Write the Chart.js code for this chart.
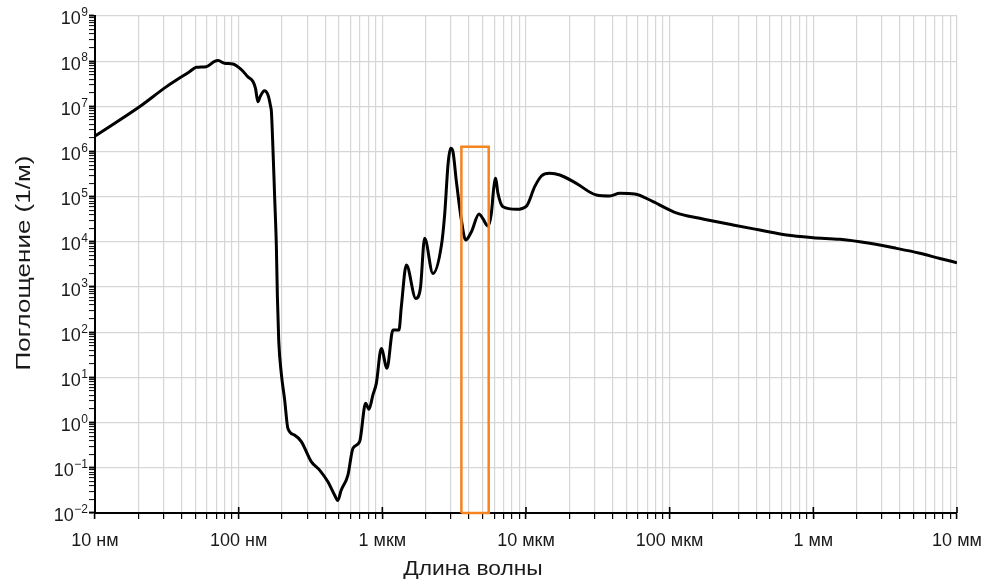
<!DOCTYPE html>
<html>
<head>
<meta charset="utf-8">
<script src="https://cdn.jsdelivr.net/npm/chart.js@4/dist/chart.umd.min.js"></script>
<style>
  html, body { margin: 0; padding: 0; background: #fff; }
  #wrap { width: 994px; height: 581px; position: relative; }
</style>
</head>
<body>
<div id="wrap"><canvas id="c" width="994" height="581"></canvas></div>
<script>
// Wavelength (m) and absorption coefficient (1/m)
const wavelength = [
  1e-8, 2.04e-8, 3.13e-8, 4.55e-8, 5.07e-8, 5.95e-8, 6.8e-8, 7.2e-8, 7.97e-8, 9.1e-8,
  1.04e-7, 1.16e-7, 1.26e-7, 1.31e-7, 1.36e-7, 1.41e-7, 1.51e-7, 1.6e-7, 1.67e-7, 1.69e-7,
  1.73e-7, 1.78e-7, 1.83e-7, 1.86e-7, 1.9e-7, 1.98e-7, 2.09e-7, 2.2e-7, 2.45e-7, 2.73e-7,
  3.2e-7, 3.66e-7, 4.18e-7, 4.65e-7, 4.9e-7, 5.17e-7, 5.76e-7, 6.24e-7, 6.95e-7, 7.65e-7,
  8.07e-7, 8.6e-7, 9.08e-7, 9.84e-7, 1.077e-6, 1.186e-6, 1.306e-6, 1.356e-6, 1.47e-6, 1.71e-6,
  1.84e-6, 1.97e-6, 2.25e-6, 2.58e-6, 2.72e-6, 2.87e-6, 2.99e-6, 3.1e-6, 3.27e-6, 3.55e-6,
  3.8e-6, 4.17e-6, 4.71e-6, 5.0e-6, 5.43e-6, 5.74e-6, 5.96e-6, 6.15e-6, 6.38e-6, 6.92e-6,
  8.57e-6, 1.007e-5, 1.15e-5, 1.28e-5, 1.46e-5, 1.72e-5, 2.24e-5, 3.09e-5, 3.83e-5, 4.49e-5,
  5.71e-5, 7.66e-5, 1.11e-4, 1.62e-4, 2.76e-4, 4.24e-4, 6.5e-4, 9.98e-4, 1.53e-3, 2.47e-3,
  3.79e-3, 5.52e-3, 7.6e-3, 1e-2
];
const absorption = [
  2.2e6, 9.8e6, 2.7e7, 5.85e7, 7.3e7, 7.55e7, 9.9e7, 1.03e8, 9.0e7, 8.7e7,
  6.6e7, 4.5e7, 3.5e7, 2.5e7, 1.27e7, 1.64e7, 2.22e7, 1.78e7, 9.8e6, 7.6e6,
  1.3e6, 1e5, 7.8e3, 612, 67, 12.3, 3.2, 0.75, 0.53, 0.38,
  0.137, 0.089, 0.049, 0.025, 0.019, 0.032, 0.069, 0.27, 0.38, 2.67,
  1.97, 4.1, 7.4, 44, 15.9, 112, 112, 368, 3.08e3, 562,
  940, 1.2e4, 2.0e3, 8.5e3, 4.3e4, 5.5e5, 1.18e6, 1.0e6, 2.3e5, 3.05e4,
  1.1e4, 1.68e4, 4.15e4, 3.3e4, 2.25e4, 4.3e4, 1.53e5, 2.56e5, 1.19e5, 6.0e4,
  5.26e4, 6.2e4, 1.67e5, 2.88e5, 3.3e5, 3.03e5, 1.98e5, 1.09e5, 1.04e5, 1.19e5,
  1.15e5, 7.8e4, 4.4e4, 3.33e4, 2.37e4, 1.83e4, 1.42e4, 1.24e4, 1.14e4, 9.3e3,
  7.2e3, 5.6e3, 4.3e3, 3.47e3
];
// Highlight window (orange rectangle)
const boxWavelength = [3.55e-6, 3.55e-6, 5.5e-6, 5.5e-6, 3.55e-6];
const boxAbsorption = [0.01, 1.28e6, 1.28e6, 0.01, 0.01];

// Axis ticks
const xMajorValues = [1e-8, 1e-7, 1e-6, 1e-5, 1e-4, 1e-3, 1e-2];
const xMajorLabels = ['10 нм', '100 нм', '1 мкм', '10 мкм', '100 мкм', '1 мм', '10 мм'];
const yExponents = [-2, -1, 0, 1, 2, 3, 4, 5, 6, 7, 8, 9];
const xTitle = 'Длина волны';
const yTitle = 'Поглощение (1/м)';

function isPow10(v) { const l = Math.log10(v); return Math.abs(l - Math.round(l)) < 1e-9; }

function decadeTicks(minExp, maxExp) {
  const t = [];
  for (let e = minExp; e < maxExp; e++) {
    for (let s = 1; s <= 9; s++) t.push({ value: parseFloat((s * Math.pow(10, e)).toPrecision(6)) });
  }
  t.push({ value: Math.pow(10, maxExp) });
  return t;
}

const FONT = '"Liberation Sans", Arial, sans-serif';
const TEXT = '#1a1a1a';

// Y tick labels as 10 with a raised exponent, placed by the y scale
const yLabelPlugin = {
  id: 'yPowLabels',
  afterDraw(chart) {
    const ctx = chart.ctx;
    const ys = chart.scales.y;
    const right = ys.right - 7;
    ctx.save();
    ctx.fillStyle = TEXT;
    ctx.textBaseline = 'middle';
    ctx.textAlign = 'right';
    yExponents.forEach(e => {
      const py = ys.getPixelForValue(Math.pow(10, e));
      const expStr = e < 0 ? '\u2212' + Math.abs(e) : String(e);
      ctx.font = '12px ' + FONT;
      const w = ctx.measureText(expStr).width;
      ctx.fillText(expStr, right, py - 3);
      ctx.font = '18px ' + FONT;
      ctx.fillText('10', right - w - 0.5, py + 3.5);
    });
    ctx.restore();
  }
};

// Short inward tick marks at the major x values (decades)
const xInnerTicks = {
  id: 'xInnerTicks',
  afterDraw(chart) {
    const ctx = chart.ctx;
    const xs = chart.scales.x;
    const y0 = chart.chartArea.bottom;
    ctx.save();
    ctx.strokeStyle = '#000';
    ctx.lineWidth = 1.6;
    xMajorValues.forEach(v => {
      const px = xs.getPixelForValue(v);
      ctx.beginPath();
      ctx.moveTo(px, y0);
      ctx.lineTo(px, y0 - 6);
      ctx.stroke();
    });
    ctx.restore();
  }
};

const titlePlugin = {
  id: 'axisTitles',
  afterDraw(chart) {
    const ctx = chart.ctx;
    ctx.save();
    ctx.fillStyle = TEXT;
    ctx.font = '20px ' + FONT;
    ctx.textAlign = 'center';
    ctx.textBaseline = 'middle';
    ctx.save();
    ctx.translate(473, 569);
    ctx.scale(1.14, 1);
    ctx.fillText(xTitle, 0, 0);
    ctx.restore();
    ctx.save();
    ctx.translate(24, 263);
    ctx.rotate(-Math.PI / 2);
    ctx.scale(1.3, 1);
    ctx.fillText(yTitle, 0, 0);
    ctx.restore();
    ctx.restore();
  }
};

new Chart(document.getElementById('c'), {
  type: 'line',
  data: {
    datasets: [
      {
        label: 'box',
        data: boxWavelength.map((x, i) => ({ x, y: boxAbsorption[i] })),
        borderColor: '#F5841F',
        borderWidth: 2.5,
        pointRadius: 0,
        tension: 0,
        fill: false,
        clip: false,
        order: 0
      },
      {
        label: 'absorption',
        data: wavelength.map((x, i) => ({ x, y: absorption[i] })),
        borderColor: '#000',
        borderWidth: 3,
        pointRadius: 0,
        cubicInterpolationMode: 'monotone',
        fill: false,
        order: 1
      }
    ]
  },
  options: {
    responsive: false,
    animation: false,
    events: [],
    layout: { padding: { top: 16, right: 37, left: 0, bottom: 0 } },
    plugins: { legend: { display: false }, tooltip: { enabled: false } },
    scales: {
      x: {
        type: 'logarithmic',
        min: 1e-8,
        max: 1e-2,
        afterBuildTicks: s => { s.ticks = decadeTicks(-8, -2); },
        afterFit: s => { s.height = 68; },
        grid: {
          color: '#d6d6d6',
          lineWidth: 1.2,
          tickColor: '#000',
          tickLength: 6,
          tickWidth: ctx => (ctx.tick && isPow10(ctx.tick.value)) ? 1.6 : 1.2
        },
        border: { color: '#000', width: 2 },
        ticks: {
          autoSkip: false,
          maxRotation: 0,
          padding: 11,
          color: TEXT,
          font: { family: FONT, size: 18 },
          callback: function (v) {
            const i = xMajorValues.findIndex(m => Math.abs(Math.log10(m) - Math.log10(v)) < 1e-9);
            return i >= 0 ? xMajorLabels[i] : '';
          }
        }
      },
      y: {
        type: 'logarithmic',
        min: 1e-2,
        max: 1e9,
        afterBuildTicks: s => { s.ticks = decadeTicks(-2, 9); },
        afterFit: s => { s.width = 95; },
        grid: {
          color: ctx => (ctx.tick && isPow10(ctx.tick.value)) ? '#d6d6d6' : 'rgba(0,0,0,0)',
          lineWidth: 1.2,
          tickColor: '#000',
          tickLength: 6,
          tickWidth: ctx => (ctx.tick && isPow10(ctx.tick.value)) ? 2 : 1
        },
        border: { color: '#000', width: 2 },
        ticks: { display: false }
      }
    }
  },
  plugins: [yLabelPlugin, xInnerTicks, titlePlugin]
});
</script>
</body>
</html>
